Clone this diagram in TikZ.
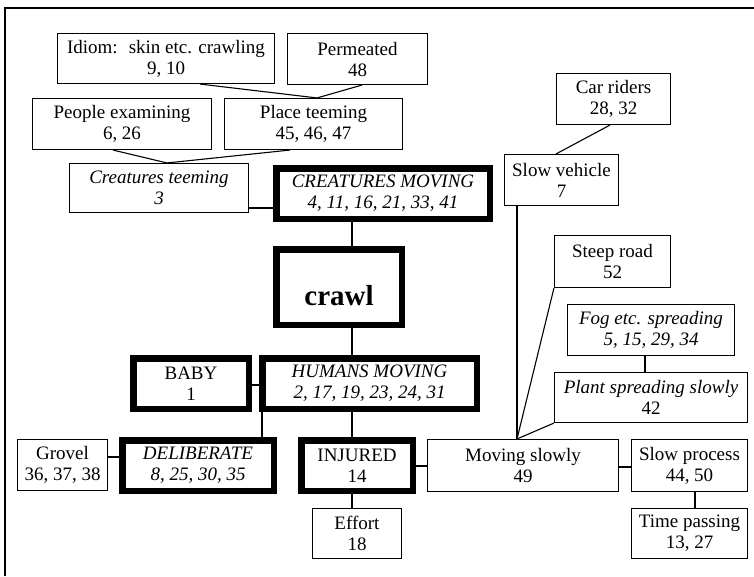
\documentclass[tikz,border=0pt]{standalone}
\usepackage{fontspec}
\setmainfont{Liberation Serif}
\begin{document}
\begin{tikzpicture}[x=1pt,y=-1pt,
  box/.style={draw, line width=1.1pt, align=center, inner sep=0pt, font=\fontsize{19}{21}\selectfont},
  heavybox/.style={box, line width=6.5pt},
  link/.style={line width=1.1pt},
  frameline/.style={line width=1.4pt}]
\useasboundingbox (0,0) rectangle (754,576);
\fill[white] (0,0) rectangle (754,576);
\draw[frameline] (5,576) -- (5,8) -- (754,8);

% thin boxes
\node[box, minimum width=217pt, minimum height=50pt] (idiom) at (166,58.5) {Idiom: \ skin etc. crawling\\9, 10};
\node[box, minimum width=140pt, minimum height=51pt] (perm) at (357.5,59) {Permeated\\48};
\node[box, minimum width=179pt, minimum height=51pt] (people) at (122,124) {People examining\\6, 26};
\node[box, minimum width=178pt, minimum height=51pt] (place) at (313.5,124) {Place teeming\\45, 46, 47};
\node[box, minimum width=179pt, minimum height=49pt] (cteem) at (159,188) {\itshape Creatures teeming\\\itshape 3};
\node[box, minimum width=114pt, minimum height=51pt] (car) at (613.5,99) {Car riders\\28, 32};
\node[box, minimum width=114pt, minimum height=51pt] (slowv) at (561.5,180) {Slow vehicle\\7};
\node[box, minimum width=116pt, minimum height=52pt] (steep) at (612.5,261.5) {Steep road\\52};
\node[box, minimum width=167pt, minimum height=51pt] (fog) at (651,330) {\itshape Fog etc. spreading\\\itshape 5, 15, 29, 34};
\node[box, minimum width=193pt, minimum height=50pt] (plant) at (651,397.5) {\itshape Plant spreading slowly\\42};
\node[box, minimum width=191pt, minimum height=52pt] (movs) at (523,465.5) {Moving slowly\\49};
\node[box, minimum width=116pt, minimum height=52pt] (slowp) at (689.5,465.5) {Slow process\\44, 50};
\node[box, minimum width=116pt, minimum height=50pt] (time) at (689.5,533.5) {Time passing\\13, 27};
\node[box, minimum width=90pt, minimum height=51pt] (grovel) at (62.5,465) {Grovel\\36, 37, 38};
\node[box, minimum width=89pt, minimum height=50pt] (effort) at (357,533.5) {Effort\\18};

% heavy boxes
\node[heavybox, minimum width=213.5pt, minimum height=50.5pt] (cmov) at (383,193.5) {\itshape CREATURES MOVING\\\itshape 4, 11, 16, 21, 33, 41};
\node[heavybox, minimum width=125.5pt, minimum height=75.5pt, text height=36pt, text depth=0pt, font=\fontsize{29}{32}\selectfont\bfseries] (crawl) at (339,287) {crawl};
\node[heavybox, minimum width=115.5pt, minimum height=50.5pt] (baby) at (191,383.5) {BABY\\1};
\node[heavybox, minimum width=214.5pt, minimum height=50.5pt] (hmov) at (369.5,383.5) {\itshape HUMANS MOVING\\\itshape 2, 17, 19, 23, 24, 31};
\node[heavybox, minimum width=151.5pt, minimum height=50.5pt] (delib) at (198,465.5) {\itshape DELIBERATE\\\itshape 8, 25, 30, 35};
\node[heavybox, minimum width=111.5pt, minimum height=50.5pt] (injured) at (357,465.5) {INJURED\\14};

% guide coordinates
\coordinate (xa) at (200,0);
\coordinate (xb) at (317,0);
\coordinate (xc) at (362,0);
\coordinate (xd) at (113,0);
\coordinate (xe) at (290,0);
\coordinate (xf) at (167,0);
\coordinate (xm) at (352,0);
\coordinate (xg) at (262,0);
\coordinate (xh) at (610,0);
\coordinate (xi) at (556,0);
\coordinate (xj) at (517,0);
\coordinate (xk) at (645,0);
\coordinate (xl) at (695,0);
\coordinate (ya) at (0,208);
\coordinate (yb) at (0,385);
\coordinate (yc) at (0,457);
\coordinate (yd) at (0,466);
\coordinate (ye) at (0,467);

% connectors
\draw[link] (idiom.south -| xa) -- (place.north -| xb);
\draw[link] (perm.south -| xc) -- (place.north -| xb);
\draw[link] (people.south -| xd) -- (cteem.north -| xf);
\draw[link] (place.south -| xe) -- (cteem.north -| xf);
\draw[link] (cteem.east |- ya) -- (cmov.west |- ya);
\draw[link] (cmov.south -| xm) -- (crawl.north -| xm);
\draw[link] (crawl.south -| xm) -- (hmov.north -| xm);
\draw[link] (baby.east |- yb) -- (hmov.west |- yb);
\draw[link] (hmov.south -| xg) -- (delib.north -| xg);
\draw[link] (hmov.south -| xm) -- (injured.north -| xm);
\draw[link] (grovel.east |- yc) -- (delib.west |- yc);
\draw[link] (injured.south -| xm) -- (effort.north -| xm);
\draw[link] (injured.east |- yd) -- (movs.west |- yd);
\draw[link] (movs.east |- ye) -- (slowp.west |- ye);
\draw[link] (slowp.south -| xl) -- (time.north -| xl);
\draw[link] (car.south -| xh) -- (slowv.north -| xi);
\draw[link] (slowv.south -| xj) -- (movs.north -| xj);
\draw[link] (steep.south west) -- (movs.north -| xj);
\draw[link] (plant.south west) -- (movs.north -| xj);
\draw[link] (fog.south -| xk) -- (plant.north -| xk);
\end{tikzpicture}
\end{document}
